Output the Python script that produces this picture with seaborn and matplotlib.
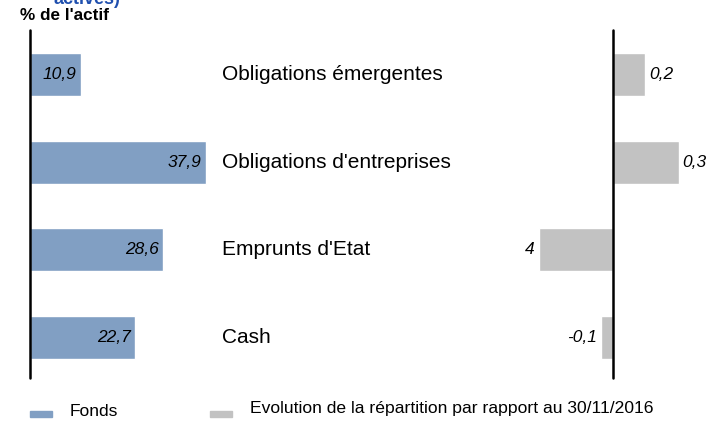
import matplotlib
matplotlib.use("Agg")
import matplotlib.pyplot as plt
from matplotlib.patches import Rectangle
import seaborn as sns
import pandas as pd

# données
categories = ["Obligations émergentes", "Obligations d'entreprises", "Emprunts d'Etat", "Cash"]
fonds = [10.9, 37.9, 28.6, 22.7]
fonds_labels = ["10,9", "37,9", "28,6", "22,7"]
evolution = [0.27, 0.55, -0.62, -0.10]
evolution_labels = ["0,2", "0,3", "4", "-0,1"]

blue = "#819fc3"
grey = "#c2c2c2"

sns.set_style("white")
plt.rcParams['font.family'] = ['Liberation Sans', 'DejaVu Sans']
plt.rcParams['text.color'] = 'black'

df = pd.DataFrame({"cat": categories, "fonds": fonds, "evol": evolution})

W, H = 720, 421
fig = plt.figure(figsize=(W / 100, H / 100), dpi=100)

def px(x0, y0, x1, y1):
    # rectangle en pixels (haut-gauche) -> coordonnées figure
    return [x0 / W, 1 - y1 / H, (x1 - x0) / W, (y1 - y0) / H]

ylim = (3.46, -0.507)

# --- fonds ---
ax = fig.add_axes(px(30, 30, 613, 378))
sns.barplot(data=df, y="cat", x="fonds", orient="h", color=blue, width=0.49,
            saturation=1, ax=ax)
ax.set_xlim(0, 583 / 4.64)
ax.set_ylim(*ylim)
ax.set_axis_off()
ax.axvline(0, color="black", lw=1.8, clip_on=False)
for i, (v, lab) in enumerate(zip(fonds, fonds_labels)):
    ax.text(v - 0.9, i, lab, ha="right", va="center", fontsize=12.5, style="italic")
    ax.text((222 - 30) / 583, i, categories[i], transform=ax.get_yaxis_transform(),
            ha="left", va="center", fontsize=15)

# --- évolution ---
ax2 = fig.add_axes(px(500, 30, 700, 378))
sns.barplot(data=df, y="cat", x="evol", orient="h", color=grey, width=0.49,
            saturation=1, ax=ax2)
ax2.set_xlim(-113 / 120, 87 / 120)
ax2.set_ylim(*ylim)
ax2.set_axis_off()
ax2.axvline(0, color="black", lw=1.8, clip_on=False)
for i, (v, lab) in enumerate(zip(evolution, evolution_labels)):
    off = 0.03 if v >= 0 else -0.03
    ax2.text(v + off, i, lab, ha="left" if v >= 0 else "right", va="center",
             fontsize=12.5, style="italic")

# --- textes du haut ---
fig.text(20 / W, 1 - 15 / H, "% de l'actif", fontsize=12.3, fontweight="bold",
         ha="left", va="center")
# fin d'un titre coupé en haut de l'image
fig.text(53 / W, 1 + 1 / H, "actives)", fontsize=13, fontweight="bold",
         color="#1f4fae", ha="left", va="center")

# --- légende ---
fig.patches.append(Rectangle((30 / W, 1 - 417 / H), 22 / W, 6 / H,
                             transform=fig.transFigure, color=blue, figure=fig))
fig.text(70 / W, 1 - 412 / H, "Fonds", fontsize=12.5, ha="left", va="center")
fig.patches.append(Rectangle((210 / W, 1 - 417 / H), 22 / W, 6 / H,
                             transform=fig.transFigure, color=grey, figure=fig))
fig.text(250 / W, 1 - 409 / H, "Evolution de la répartition par rapport au 30/11/2016",
         fontsize=12.6, ha="left", va="center")

fig.savefig("out.png", dpi=100)
